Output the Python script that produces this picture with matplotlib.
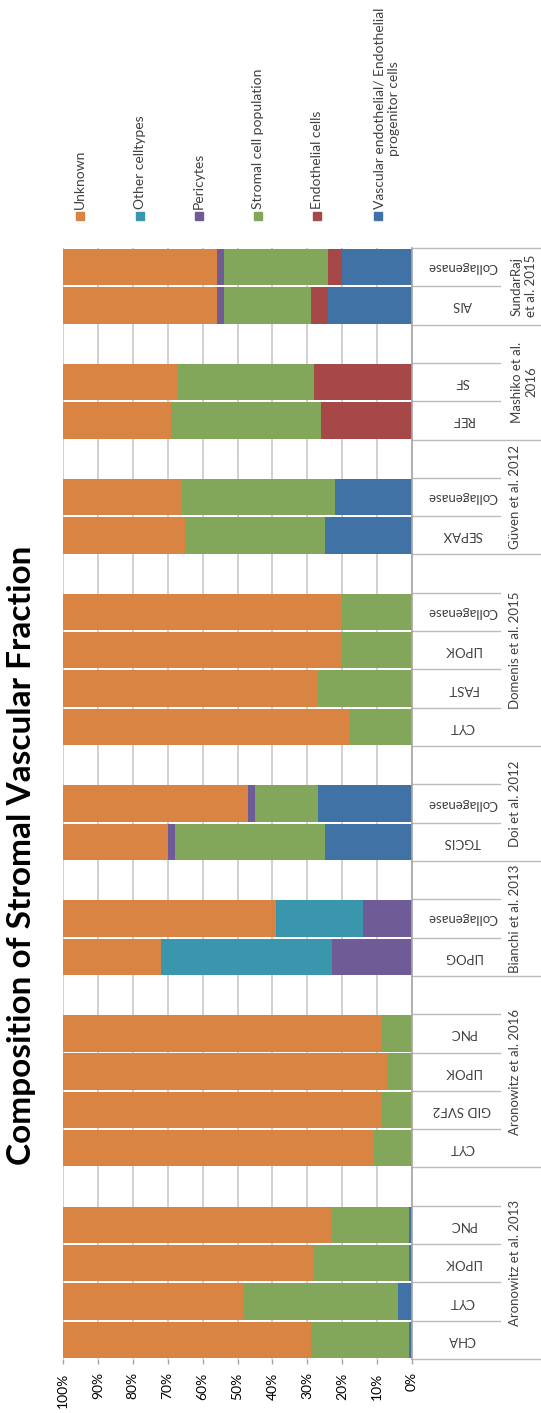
import matplotlib.pyplot as plt
from matplotlib.patches import Rectangle
from matplotlib.transforms import blended_transform_factory
import numpy as np

plt.rcParams['font.family'] = ['Lato', 'DejaVu Sans']

# studies and their isolation methods (bottom to top)
groups = ["Aronowitz et al. 2013", "Aronowitz et al. 2016", "Bianchi et al. 2013",
          "Doi et al. 2012", "Domenis et al. 2015", "Güven et al. 2012",
          "Mashiko et al.\n2016", "SundarRaj\net al. 2015"]
methods = [["CHA", "CYT", "LIPOK", "PNC"],
           ["CYT", "GID SVF2", "LIPOK", "PNC"],
           ["LIPOG", "Collagenase"],
           ["TGCIS", "Collagenase"],
           ["CYT", "FAST", "LIPOK", "Collagenase"],
           ["SEPAX", "Collagenase"],
           ["REF", "SF"],
           ["AIS", "Collagenase"]]

# percentages per method, same order as above
vascular_epc = [1, 4, 1, 1, 0, 0, 0, 0, 0, 0, 25, 27, 0, 0, 0, 0, 25, 22, 0, 0, 24, 20]
endothelial = [0, 0, 0, 0, 0, 0, 0, 0, 0, 0, 0, 0, 0, 0, 0, 0, 0, 0, 26, 28, 5, 4]
stromal = [28, 44, 27, 22, 11, 9, 7, 9, 0, 0, 43, 18, 18, 27, 20, 20, 40, 44, 43, 39, 25, 30]
pericytes = [0, 0, 0, 0, 0, 0, 0, 0, 23, 14, 2, 2, 0, 0, 0, 0, 0, 0, 0, 0, 2, 2]
other_cells = [0, 0, 0, 0, 0, 0, 0, 0, 49, 25, 0, 0, 0, 0, 0, 0, 0, 0, 0, 0, 0, 0]
unknown = [71, 52, 72, 77, 89, 91, 93, 91, 28, 61, 30, 53, 82, 73, 80, 80, 35, 34, 31, 33, 44, 44]

series = [("Vascular endothelial/ Endothelial\nprogenitor cells", vascular_epc, "#4072A6"),
          ("Endothelial cells", endothelial, "#A64848"),
          ("Stromal cell population", stromal, "#82A65A"),
          ("Pericytes", pericytes, "#6F5C96"),
          ("Other celltypes", other_cells, "#3A96AC"),
          ("Unknown", unknown, "#DA8444")]

# slot positions: one per method plus an empty slot after every study but the last
pos = []
bounds = [-0.5]
slot = 0
for g, m in enumerate(methods):
    for _ in m:
        pos.append(slot)
        slot += 1
    if g < len(methods) - 1:
        slot += 1
    bounds.append(slot - 0.5)
n_slots = slot
pos = np.array(pos)

W, H = 541, 1413
fig = plt.figure(figsize=(W / 100, H / 100), dpi=100)
ax = fig.add_axes([63 / W, 1 - 1359 / H, 349 / W, 1111 / H])

left = np.zeros(len(pos))
for name, vals, col in series:
    vals = np.array(vals, dtype=float)
    ax.barh(pos, vals, left=left, height=0.95, color=col, zorder=2)
    left += vals

ax.set_xlim(100, 0)
ax.set_ylim(-0.5, n_slots - 0.5)
ax.set_xticks(np.arange(0, 101, 10))
ax.set_xticklabels([f"{v}%" for v in range(0, 101, 10)], rotation=90, fontsize=10)
ax.set_yticks([])
ax.tick_params(axis='x', length=3.6, width=1, color="#A6A6A6", pad=6)
ax.grid(axis='x', color="#C8C8C8", linewidth=1.2, zorder=0)
ax.set_axisbelow(True)
for s in ['top', 'left', 'bottom']:
    ax.spines[s].set_visible(False)
ax.spines['right'].set_color("#A6A6A6")
ax.spines['right'].set_linewidth(1.2)
ax.spines['right'].set_zorder(3)

# category axis: separators, method labels and study labels
tr = blended_transform_factory(ax.transAxes, ax.transData)
for b in np.arange(-0.5, n_slots, 1.0):
    long_line = any(abs(b - gb) < 1e-6 for gb in bounds)
    x_end = 1.4 if long_line else 1.252
    ax.plot([1.0, x_end], [b, b], transform=tr, color="#BCBCBC", lw=1.0,
            clip_on=False, zorder=1)

i = 0
for g, m in enumerate(methods):
    for lab in m:
        ax.text(1.143, pos[i], lab, transform=tr, rotation=180, ha='center',
                va='center', fontsize=9.5, color="#404040")
        i += 1
    mid = (bounds[g] + bounds[g + 1]) / 2
    gx = 1.321 if "\n" in groups[g] else 1.295
    ax.text(gx, mid, groups[g], transform=tr, rotation=90, ha='center',
            va='center', fontsize=9.5, color="#404040", multialignment='center')

fig.text(22 / W, 1 - 855 / H, "Composition of Stromal Vascular Fraction",
         rotation=90, ha='center', va='center', fontsize=24, fontweight='bold')

# legend drawn by hand, top series first
leg_x = [80, 140, 199, 258, 317, 378]
for (name, vals, col), x in zip(series[::-1], leg_x):
    fig.patches.append(Rectangle(((x - 4) / W, 1 - 220 / H), 8 / W, 8 / H,
                                 color=col, transform=fig.transFigure))
    tx = x + 9 if "\n" in name else x
    fig.text(tx / W, 1 - 209 / H, name, rotation=90, ha='center', va='bottom',
             fontsize=10, color="#404040")

fig.savefig("out.png", dpi=100)
